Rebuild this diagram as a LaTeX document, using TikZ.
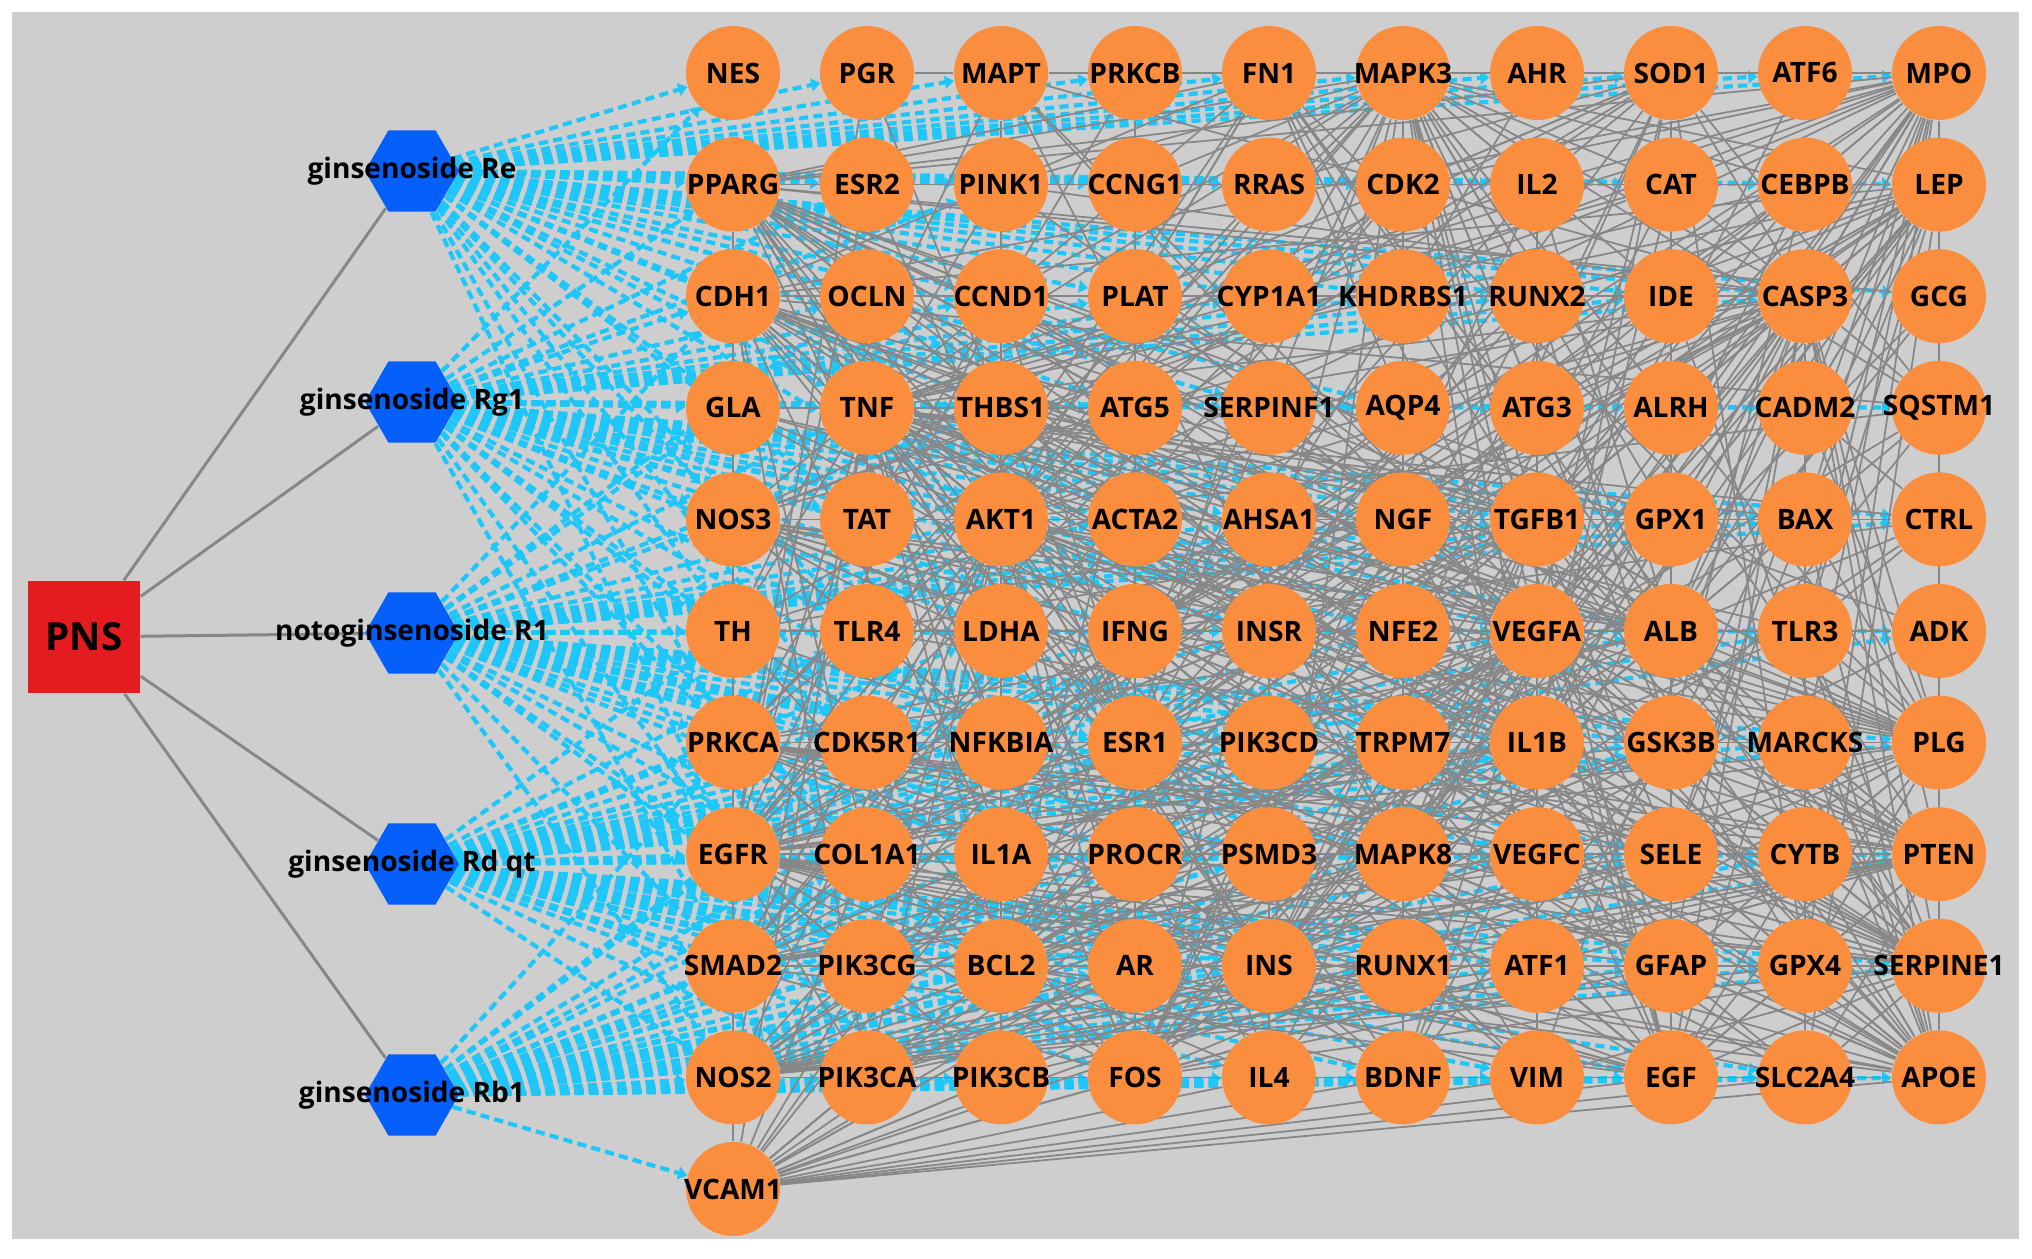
\documentclass[tikz,border=0pt]{standalone}
\usepackage{fontspec}
\setmainfont{Open Sans}
\usetikzlibrary{shapes.geometric,arrows.meta}

\definecolor{pnsred}{RGB}{228,28,32}
\definecolor{hexblue}{RGB}{5,95,250}
\definecolor{geneorange}{RGB}{250,142,62}
\definecolor{linkgrey}{RGB}{135,135,135}
\definecolor{linkblue}{RGB}{30,198,250}
\definecolor{bggrey}{RGB}{206,206,206}

\pgfdeclarelayer{back}
\pgfdeclarelayer{links}
\pgfsetlayers{back,links,main}

\begin{document}
\begin{tikzpicture}[node distance=2.31cm, font=\bfseries\fontsize{8}{9}\selectfont]
	\tikzstyle{drug} = [fill=pnsred, minimum size=11.2mm, inner sep=0pt, font=\bfseries\fontsize{11}{12}\selectfont]
	\tikzstyle{herb} = [fill=hexblue, regular polygon, regular polygon sides=6, minimum size=9.4mm, inner sep=0pt]
	\tikzstyle{gene} = [fill=geneorange, circle, minimum size=9.4mm, inner sep=0pt]
	\tikzstyle{stem} = [color=linkgrey, line width=0.85pt]
	\tikzstyle{ppi} = [color=linkgrey, line width=0.5pt]
	\tikzstyle{hit} = [color=linkblue, line width=1.2pt, dash pattern=on 2.6pt off 1.5pt, -{Triangle[length=2.6pt,width=3.6pt]}]

	\useasboundingbox (0,0) rectangle (20.32,12.59);
	\begin{pgfonlayer}{back}
		\fill[bggrey] (0.12,0.20) rectangle (20.19,12.47);
	\end{pgfonlayer}

	\node[drug] (PNS) at (0.84,6.22) {PNS};
	\node[herb, label=center:ginsenoside Re] (Re) at (4.12,10.88) {};
	\node[herb, label=center:ginsenoside Rg1, below of=Re] (Rg1) {};
	\node[herb, label=center:notoginsenoside R1, below of=Rg1] (R1) {};
	\node[herb, label=center:ginsenoside Rd qt, below of=R1] (Rd) {};
	\node[herb, label=center:ginsenoside Rb1, below of=Rd] (Rb1) {};

	\foreach \g [count=\k from 0] in {
		NES,PGR,MAPT,PRKCB,FN1,MAPK3,AHR,SOD1,ATF6,MPO,
		PPARG,ESR2,PINK1,CCNG1,RRAS,CDK2,IL2,CAT,CEBPB,LEP,
		CDH1,OCLN,CCND1,PLAT,CYP1A1,KHDRBS1,RUNX2,IDE,CASP3,GCG,
		GLA,TNF,THBS1,ATG5,SERPINF1,AQP4,ATG3,ALRH,CADM2,SQSTM1,
		NOS3,TAT,AKT1,ACTA2,AHSA1,NGF,TGFB1,GPX1,BAX,CTRL,
		TH,TLR4,LDHA,IFNG,INSR,NFE2,VEGFA,ALB,TLR3,ADK,
		PRKCA,CDK5R1,NFKBIA,ESR1,PIK3CD,TRPM7,IL1B,GSK3B,MARCKS,PLG,
		EGFR,COL1A1,IL1A,PROCR,PSMD3,MAPK8,VEGFC,SELE,CYTB,PTEN,
		SMAD2,PIK3CG,BCL2,AR,INS,RUNX1,ATF1,GFAP,GPX4,SERPINE1,
		NOS2,PIK3CA,PIK3CB,FOS,IL4,BDNF,VIM,EGF,SLC2A4,APOE,
		VCAM1} {
		\pgfmathtruncatemacro{\gcol}{mod(\k,10)}
		\pgfmathtruncatemacro{\grow}{div(\k,10)}
		\node[gene, label=center:\g] (\g) at ({7.33+1.34*\gcol},{11.86-1.116*\grow}) {};
	}

	\begin{pgfonlayer}{links}
	\foreach \h in {Re,Rg1,R1,Rd,Rb1}
		\path[stem] (PNS) edge (\h);

	% compound - target
	\foreach \h/\ts in {
		Re/{NES,PPARG,CDH1,GLA,NOS3,TH,PRKCA,EGFR,PGR,ESR2,OCLN,TNF,TAT,TLR4,CDK5R1,MAPT,PINK1,CCND1,THBS1,AKT1,PRKCB,CCNG1,PLAT,ATG5,FN1,RRAS,CYP1A1,MAPK3,CDK2,AHR,IL2,SOD1,CAT,ATF6,MPO,CEBPB,LEP,GCG,CASP3,IDE,RUNX2,KHDRBS1,SERPINF1,AQP4,ACTA2},
		Rg1/{NES,PPARG,CDH1,GLA,NOS3,TH,PRKCA,EGFR,SMAD2,ESR2,OCLN,TNF,TAT,TLR4,CDK5R1,COL1A1,PINK1,CCND1,THBS1,AKT1,LDHA,NFKBIA,ATG5,ACTA2,IFNG,SERPINF1,AHSA1,INSR,AQP4,NGF,NFE2,ATG3,TGFB1,VEGFA,ALRH,GPX1,ALB,CADM2,BAX,SQSTM1,CTRL,CASP3,RUNX2,IDE,KHDRBS1,CYP1A1,PLAT},
		R1/{GLA,NOS3,TH,PRKCA,EGFR,SMAD2,NOS2,TNF,TAT,TLR4,CDK5R1,COL1A1,PIK3CG,THBS1,AKT1,LDHA,NFKBIA,IL1A,BCL2,ACTA2,IFNG,ESR1,PROCR,AHSA1,INSR,PIK3CD,PSMD3,NGF,NFE2,TRPM7,MAPK8,TGFB1,VEGFA,IL1B,VEGFC,GPX1,ALB,GSK3B,SELE,BAX,TLR3,MARCKS,CTRL,ADK,PLG,CDH1,OCLN},
		Rd/{PRKCA,EGFR,SMAD2,NOS2,CDK5R1,COL1A1,PIK3CG,PIK3CA,NFKBIA,IL1A,BCL2,PIK3CB,ESR1,PROCR,AR,FOS,PIK3CD,PSMD3,INS,IL4,TRPM7,MAPK8,RUNX1,BDNF,IL1B,VEGFC,ATF1,VIM,GSK3B,SELE,GFAP,EGF,MARCKS,CYTB,GPX4,SLC2A4,PLG,PTEN,SERPINE1,TH,TLR4,LDHA,IFNG,INSR,NFE2,VEGFA,ALB,TLR3,ADK},
		Rb1/{SMAD2,NOS2,VCAM1,PIK3CG,PIK3CA,BCL2,PIK3CB,AR,FOS,INS,IL4,RUNX1,BDNF,ATF1,VIM,GFAP,EGF,GPX4,SLC2A4,SERPINE1,APOE,EGFR,COL1A1,IL1A,PROCR,PSMD3,MAPK8,VEGFC,SELE,CYTB,PTEN,PRKCA,CDK5R1,NFKBIA,ESR1,PIK3CD,TRPM7,IL1B,GSK3B}}
		\foreach \t in \ts
			\path[hit] (\h) edge (\t);

	% target - target
	\foreach \s/\ts in {
		AKT1/{TNF,ALB,IL1B,VEGFA,EGFR,MAPK3,CASP3,INS,MAPK8,PTEN,ESR1,FOS,TGFB1,EGF,BCL2,GSK3B,PPARG,NOS3,MPO,LEP,APOE,SERPINE1,BAX,CDH1,PIK3CA,PIK3CB,PIK3CG,PIK3CD,NFKBIA,TLR4,SQSTM1,NGF,BDNF,INSR,FN1,CCND1,PRKCA,SMAD2,GPX1,SOD1,VCAM1,IFNG,AR,CDK2,MAPT,ATG5,PINK1,SLC2A4,NOS2,PLG},
		TNF/{ALB,IL1B,VEGFA,EGFR,MAPK3,CASP3,INS,MAPK8,PTEN,FOS,TGFB1,IFNG,BCL2,PPARG,NOS3,MPO,LEP,APOE,SERPINE1,VCAM1,SELE,NFKBIA,TLR4,TLR3,IL2,IL4,IL1A,NOS2,CAT,SOD1,BAX,ACTA2,CDH1,FN1,GPX1,CEBPB,PLG,PROCR,CTRL,ESR1},
		ALB/{IL1B,VEGFA,EGFR,MAPK3,CASP3,INS,PTEN,ESR1,EGF,APOE,SERPINE1,LEP,MPO,PLG,GCG,CAT,SOD1,GPX1,LDHA,IDE,PPARG,IL2,CDH1,FN1,SELE,PROCR,VCAM1,TH,NOS3,TGFB1,IFNG,FOS,ADK,CTRL,GLA},
		IL1B/{VEGFA,EGFR,MAPK3,CASP3,INS,MAPK8,FOS,TGFB1,IFNG,PPARG,NOS2,MPO,LEP,SERPINE1,VCAM1,SELE,TLR4,TLR3,IL4,IL2,IL1A,NFKBIA,BCL2,SOD1,CAT,CEBPB,ACTA2,COL1A1,PTEN,NOS3,PLG,APOE,GFAP,BDNF},
		VEGFA/{EGFR,MAPK3,CASP3,INS,MAPK8,PTEN,ESR1,FOS,TGFB1,EGF,BCL2,NOS3,LEP,APOE,SERPINE1,VCAM1,SELE,VEGFC,FN1,CDH1,THBS1,PLAT,PLG,NGF,BDNF,COL1A1,ACTA2,PIK3CA,PRKCA,SMAD2,GFAP,IFNG,MPO,NOS2,PPARG,SOD1},
		EGFR/{MAPK3,CASP3,INS,MAPK8,PTEN,ESR1,FOS,EGF,BCL2,CDH1,PIK3CA,PIK3CB,PIK3CG,PIK3CD,PRKCA,SMAD2,CCND1,AR,ESR2,PGR,RRAS,CDK2,GSK3B,INSR,FN1,SERPINE1,APOE,NOS2,IL1A,COL1A1,PSMD3,RUNX1,ATF1,VIM,SELE,CYTB,GFAP,PLG,LEP,MPO,TGFB1},
		MAPK3/{CASP3,INS,MAPK8,PTEN,ESR1,FOS,TGFB1,EGF,BCL2,PPARG,CCND1,CDK2,RRAS,PRKCB,PRKCA,MAPT,GSK3B,NGF,BDNF,ATF1,ATF6,AHR,SOD1,IL2,CAT,CEBPB,MPO,LEP,RUNX2,KHDRBS1,CYP1A1,IDE,FN1,PINK1,CCNG1,SQSTM1,ALRH,ATG3,GPX1,PLG},
		CASP3/{INS,MAPK8,PTEN,BCL2,BAX,FOS,APOE,SQSTM1,CAT,SOD1,GPX1,GPX4,ATG5,ATG3,PINK1,MAPT,GFAP,LEP,MPO,CADM2,BDNF,TH,EGF,SLC2A4,PLG,SERPINE1,NFKBIA,CDH1,PPARG,ESR1,TGFB1,IFNG,NOS2,VIM},
		INS/{INSR,GCG,LEP,SLC2A4,PTEN,EGF,APOE,SERPINE1,GSK3B,IDE,PIK3CA,PIK3CB,PIK3CD,PPARG,MPO,ADK,CTRL,PLG,ESR1,FOS,TGFB1,IL4,BDNF,NOS3,CAT,SOD1,VCAM1,SELE},
		MAPK8/{PTEN,FOS,BCL2,BAX,GSK3B,SQSTM1,ATF1,ATF6,ESR1,TGFB1,NFKBIA,PIK3CA,IL1A,SMAD2,EGF,BDNF,NGF,MAPT,SERPINE1,APOE,LEP,MPO,VIM,PRKCA,NOS2,INSR},
		PTEN/{PIK3CA,PIK3CB,PIK3CD,PIK3CG,GSK3B,BCL2,EGF,ESR1,FOS,TGFB1,SQSTM1,PINK1,CCND1,CDH1,PPARG,LEP,MPO,SERPINE1,APOE,PLG,ADK,CYTB,GPX4,SLC2A4,SELE,VCAM1,NOS2},
		ESR1/{ESR2,PGR,AR,FOS,CCND1,BCL2,EGF,TGFB1,GSK3B,PPARG,CDH1,LEP,APOE,SERPINE1,PRKCA,NOS3,CYP1A1,AHR,CEBPB,RUNX2,NFKBIA,VIM,GFAP,SLC2A4},
		FOS/{TGFB1,EGF,BCL2,IFNG,IL4,IL2,BDNF,NGF,ATF1,RUNX1,RUNX2,NFKBIA,COL1A1,SERPINE1,VIM,GFAP,TH,PRKCA,PRKCB,NOS2,SMAD2,VCAM1,SLC2A4,APOE,LEP},
		TGFB1/{SMAD2,COL1A1,ACTA2,FN1,SERPINE1,CDH1,THBS1,VIM,IFNG,IL4,IL2,EGF,BCL2,CTRL,LEP,MPO,PLG,APOE,VEGFC,PLAT,OCLN,RUNX2,RUNX1,CEBPB,TLR4,NOS2,VCAM1,SELE},
		EGF/{BCL2,CCND1,FN1,PIK3CA,PIK3CB,SERPINE1,APOE,LEP,PLG,GFAP,BDNF,NGF,VIM,ATF1,SLC2A4,COL1A1,PRKCA,SMAD2,CDH1,SELE,VCAM1,GPX4,CYTB},
		BCL2/{BAX,SQSTM1,ATG5,ATG3,PINK1,GSK3B,NFKBIA,IL4,BDNF,NGF,PIK3CA,CCND1,SOD1,GPX4,APOE,LEP,SERPINE1,VCAM1,NOS2},
		IFNG/{IL4,IL2,IL1A,TLR4,TLR3,NOS2,VCAM1,SELE,NFKBIA,CEBPB,IDE,MPO,LEP,CTRL,SERPINE1,PLG},
		PPARG/{CDH1,GLA,NOS3,TH,PRKCA,EGFR,LEP,MPO,APOE,SERPINE1,CEBPB,CAT,SOD1,GPX1,ALB,FN1,CCND1,TNF,VEGFA,INS,IL1B,TGFB1,NFKBIA,NOS2,SLC2A4,ADK,PLG,GCG,INSR,ACTA2,THBS1,ATG5,LDHA,IFNG,ESR2,OCLN},
		CDH1/{OCLN,CCND1,GLA,TNF,THBS1,SMAD2,FN1,VIM,EGF,COL1A1,ACTA2,SERPINE1,SQSTM1,MPO,LEP,PLG,IL1A,PIK3CA,AHSA1,NGF,VEGFA,LDHA,INSR,ATG5},
		GLA/{TNF,THBS1,ATG5,ACTA2,IL1B,APOE,NOS3,TH},
		NOS3/{TAT,ACTA2,AHSA1,NGF,SOD1,CAT,GPX1,NOS2,VCAM1,SELE,INS,INSR,IFNG,TH,TLR4,PLG,SERPINE1,LEP,APOE,MPO,CTRL,BAX},
		TH/{TLR4,LDHA,IFNG,INSR,NFE2,BDNF,NGF,GFAP,NOS2,MAPT,PINK1,SOD1},
		PRKCA/{CDK5R1,NFKBIA,PIK3CD,TRPM7,IL1B,GSK3B,MARCKS,PLG,PRKCB,RRAS,INSR,VEGFC,SELE,PTEN,COL1A1,IL1A,PROCR,PSMD3,CYTB},
		SMAD2/{PIK3CG,BCL2,AR,INS,RUNX1,ATF1,GFAP,GPX4,SERPINE1,COL1A1,IL1A,PROCR,PSMD3,VEGFC,SELE,RUNX2,CEBPB,FN1,ACTA2,CDK2},
		NOS2/{PIK3CA,PIK3CB,IL4,BDNF,VIM,SLC2A4,APOE,PIK3CG,AR,INS,RUNX1,ATF1,GFAP,GPX4,SERPINE1,VCAM1,IL1A,PROCR,VEGFC,SELE},
		VCAM1/{PIK3CA,PIK3CB,IL4,BDNF,VIM,SLC2A4,APOE,AR,RUNX1,SELE,IL1A,PIK3CG,SMAD2},
		LEP/{MPO,GCG,SQSTM1,CEBPB,CADM2,CTRL,ADK,PLG,SLC2A4,INSR,IDE,GPX1,CAT,RUNX2,IL2,NFKBIA,SELE,GSK3B},
		MPO/{ATF6,SOD1,CAT,CEBPB,IDE,CADM2,GPX1,BAX,SELE,PLG,APOE,SERPINE1,IL2,CDK2,AHR,TLR3,GPX4,MARCKS,SQSTM1},
		SERPINE1/{PLG,PLAT,PROCR,APOE,SELE,CTRL,ADK,GPX4,SLC2A4,CYTB,FN1,THBS1,COL1A1,ACTA2,VIM,GFAP,ATF1,RUNX1,VEGFC,MARCKS,TLR3},
		APOE/{PLG,SLC2A4,GPX4,GFAP,VIM,ATF1,CYTB,SELE,MARCKS,TLR3,BAX,GSK3B,MAPT,IDE,ADK},
		PLG/{PLAT,PROCR,THBS1,FN1,SELE,CYTB,MARCKS,TLR3,GPX4,ADK,CTRL,CADM2,BAX,VEGFC,ATF1,GFAP},
		GSK3B/{MAPT,CCND1,CDK5R1,PIK3CA,PIK3CD,BDNF,SQSTM1,NFKBIA,INSR,CEBPB,ATF1,GFAP,RUNX2,SELE,GPX4,CYTB},
		CTRL/{ADK,SQSTM1,GCG,BAX,TLR3,CADM2},
		SOD1/{AHR,ATF6,CAT,IDE,ALRH,GPX1,GPX4,SQSTM1,IL2,CDK2,RRAS,FN1,MAPT,NFE2,EGF},
		PGR/{MAPT},MAPT/{PRKCB},PRKCB/{FN1},FN1/{MAPK3},MAPK3/{AHR},AHR/{SOD1},ATF6/{MPO},
		MPO/{LEP},GCG/{SQSTM1},SQSTM1/{CTRL},ADK/{PLG},PLG/{PTEN},PTEN/{SERPINE1},SERPINE1/{APOE},
		CAT/{CEBPB},CEBPB/{LEP},IDE/{ALRH},ALRH/{GPX1},GPX1/{ALB},ALB/{GSK3B},SELE/{GFAP},GFAP/{EGF},
		CDH1/{GLA},SMAD2/{NOS2},NOS2/{VCAM1},BDNF/{VIM},VIM/{EGF}}
		\foreach \t in \ts
			\path[ppi] (\s) edge (\t);
	\end{pgfonlayer}
\end{tikzpicture}
\end{document}
